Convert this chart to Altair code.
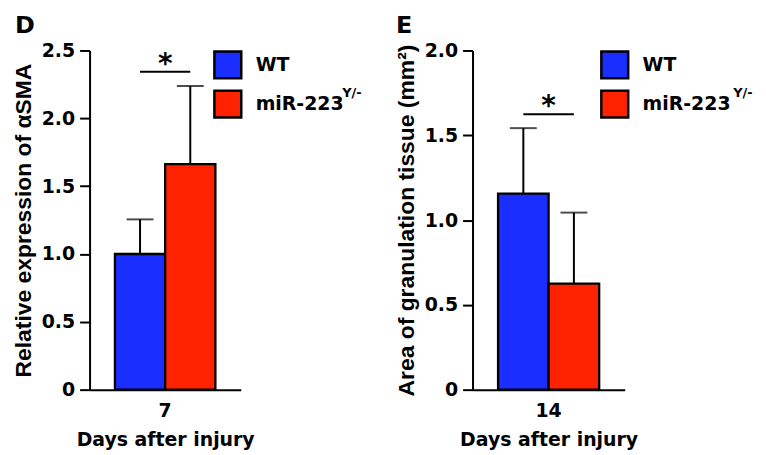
import altair as alt
import pandas as pd

groups = ["WT", "miR-223"]
colors = ["#1a2eff", "#ff2200"]

d_day = "7"
d_means = [1.0, 1.663]
d_errs = [0.255, 0.575]
d_ticks = [0, 0.5, 1.0, 1.5, 2.0, 2.5]
d_sig = 2.343
d_star = 2.395

e_day = "14"
e_means = [1.156, 0.625]
e_errs = [0.386, 0.419]
e_ticks = [0, 0.5, 1.0, 1.5, 2.0]
e_sig = 1.624
e_star = 1.668

FONT = "DejaVu Sans"


def panel(day, means, errs, ticks, ymax, ytitle, letter, sig, star,
          legx, letx, supx, width, height):
    df = pd.DataFrame({
        "day": [day] * 2,
        "group": groups,
        "value": means,
        "top": [m + e for m, e in zip(means, errs)],
    })
    sig_df = pd.DataFrame({"day": [day] * 2, "group": groups, "y": [sig] * 2})
    star_df = pd.DataFrame({"day": [day], "y": [star], "label": ["*"]})
    one = pd.DataFrame({"k": [0]})

    x = alt.X("day:N", title="Days after injury",
              scale=alt.Scale(paddingOuter=0.2525, paddingInner=0),
              axis=alt.Axis(ticks=False, tickSize=0, labelAngle=0,
                            labelPadding=12, titlePadding=10,
                            domainWidth=2, domainColor="black",
                            labelFont=FONT, labelFontSize=19, labelFontWeight="bold",
                            labelColor="black",
                            titleFont=FONT, titleFontSize=19, titleFontWeight="bold",
                            titleColor="black"))
    xo = alt.XOffset("group:N", sort=groups,
                     scale=alt.Scale(domain=groups, paddingInner=0, paddingOuter=0))
    yscale = alt.Scale(domain=[0, ymax], nice=False, zero=True)
    yaxis = alt.Axis(values=ticks,
                     labelExpr="datum.value == 0 ? '0' : format(datum.value, '.1f')",
                     tickSize=10, tickWidth=2, tickColor="black",
                     domainWidth=2, domainColor="black", grid=False,
                     labelPadding=5, titlePadding=6,
                     labelFont=FONT, labelFontSize=19, labelFontWeight="bold",
                     labelColor="black",
                     titleFont="Liberation Sans", titleFontSize=23,
                     titleFontWeight="bold", titleColor="black")

    color = alt.Color("group:N", sort=groups,
                      scale=alt.Scale(domain=groups, range=colors),
                      legend=alt.Legend(orient="none", legendX=legx, legendY=-0.5,
                                        title=None, symbolType="square",
                                        symbolSize=729, symbolStrokeColor="black",
                                        symbolStrokeWidth=2.5, symbolOpacity=1,
                                        labelFont=FONT, labelFontSize=19,
                                        labelFontWeight="bold", labelColor="black",
                                        labelOffset=13, rowPadding=1.5, labelLimit=0))

    bars = alt.Chart(df).mark_bar(stroke="black", strokeWidth=2.3).encode(
        x=x, xOffset=xo,
        y=alt.Y("value:Q", scale=yscale, axis=yaxis, title=ytitle),
        color=color,
    )
    err = alt.Chart(df).mark_rule(color="black", strokeWidth=2).encode(
        x=alt.X("day:N"), xOffset=xo,
        y=alt.Y("value:Q"), y2=alt.Y2("top:Q"),
    )
    caps = alt.Chart(df).mark_tick(color="black", thickness=2, size=27).encode(
        x=alt.X("day:N"), xOffset=xo,
        y=alt.Y("top:Q"),
    )
    sigline = alt.Chart(sig_df).mark_line(color="black", strokeWidth=2).encode(
        x=alt.X("day:N"), xOffset=xo,
        y=alt.Y("y:Q"),
    )
    stars = alt.Chart(star_df).mark_text(font=FONT, fontSize=28, fontWeight="bold",
                                         baseline="middle", align="center",
                                         color="black").encode(
        x=alt.X("day:N"), y=alt.Y("y:Q"), text="label:N",
    )
    let = alt.Chart(one).mark_text(font=FONT, fontSize=24, fontWeight="bold",
                                   align="left", baseline="alphabetic",
                                   color="black").encode(
        x=alt.value(letx), y=alt.value(-18), text=alt.value(letter),
    )
    sup = alt.Chart(one).mark_text(font=FONT, fontSize=13, fontWeight="bold",
                                   align="left", baseline="alphabetic",
                                   color="black").encode(
        x=alt.value(supx), y=alt.value(47), text=alt.value("Y/-"),
    )
    return alt.layer(bars, err, caps, sigline, stars, let, sup).properties(
        width=width, height=height)


d = panel(d_day, d_means, d_errs, d_ticks, 2.5, "Relative expression of αSMA", "D",
          d_sig, d_star, legx=124, letx=-75, supx=254, width=152, height=341)
e = panel(e_day, e_means, e_errs, e_ticks, 2.0, "Area of granulation tissue (mm²)", "E",
          e_sig, e_star, legx=128, letx=-77, supx=262, width=153, height=341)

chart = alt.hconcat(d, e, spacing=233, bounds="flush").resolve_scale(
    color="independent", xOffset="independent", x="independent", y="independent"
).resolve_legend(color="independent").properties(
    background="white",
    padding={"left": 4, "top": 4.5, "right": 5, "bottom": 5},
).configure_view(stroke=None)

chart.save("out.html", embed_options={"renderer": "svg", "actions": False})
